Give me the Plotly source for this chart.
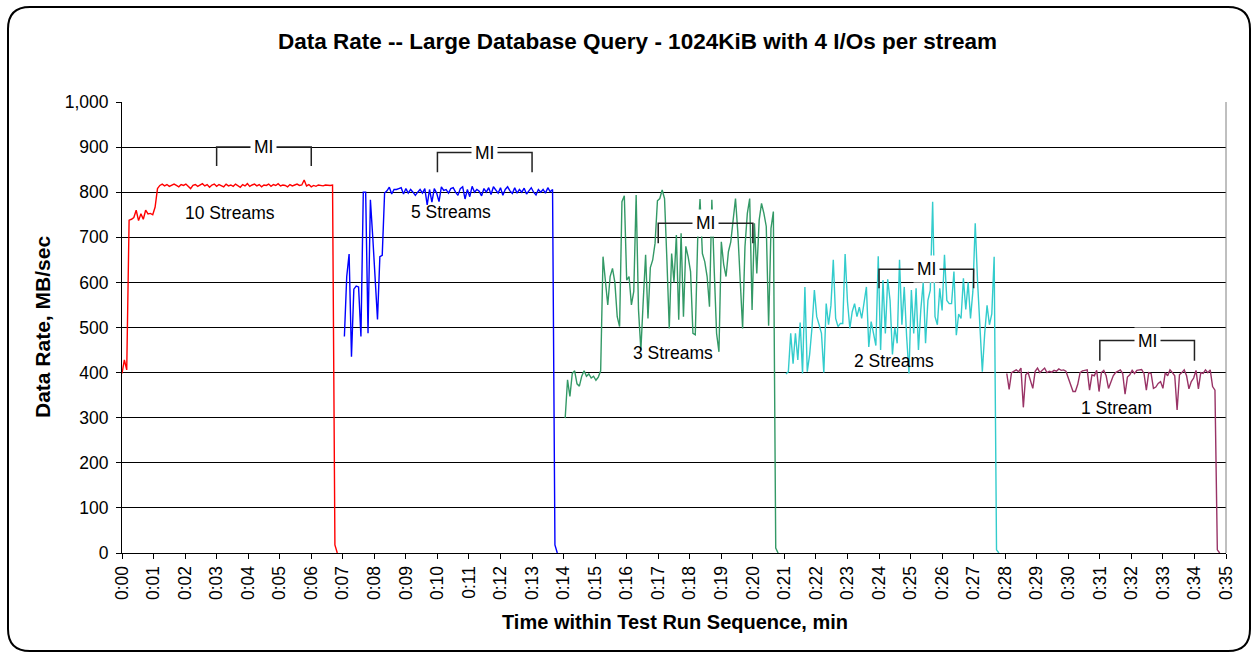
import plotly.graph_objects as go

# ---------------------------------------------------------------------------
# Measured data rate (MB/sec), one sample every 4.5 seconds
# ---------------------------------------------------------------------------
SAMPLE_SEC = 4.5

run_names = ["10 Streams", "5 Streams", "3 Streams", "2 Streams", "1 Stream"]
run_start_min = [0.0, 7.05, 14.05, 21.05, 28.05]
run_colors = ["#FF0000", "#0000FF", "#339966", "#33CCCC", "#993366"]

rate_10_streams = [
    398, 428, 406, 738, 740, 744, 760, 737, 752, 740, 760, 752, 753, 750, 767, 808,
    815, 818, 814, 817, 813, 816, 818, 815, 812, 817,
    815, 818, 814, 808, 815, 817, 813, 816, 819, 814,
    817, 811, 816, 818, 813, 817, 815, 812, 818, 814,
    816, 813, 818, 815, 811, 817, 814, 819, 813, 816,
    818, 814, 817, 812, 816, 815, 818, 813, 817, 815,
    819, 814, 816, 815, 812, 817, 814, 816, 818, 815,
    816, 827, 814, 817, 812, 815, 813, 816, 815, 814,
    816, 815, 815, 816,
    18, 0,
]

rate_5_streams = [
    480, 613, 663, 435, 585, 592, 590, 480, 800, 800, 487, 783, 700, 600, 518, 657, 660,
    798, 803, 811, 796, 806, 806, 808, 810, 796, 808,
    798, 806, 800, 793, 800, 806, 798, 808, 772, 806,
    778, 808, 798, 779, 812, 804, 806, 798, 808, 810,
    800, 793, 808, 812, 785, 806, 790, 813, 800, 806,
    802, 792, 808, 800, 810, 795, 812, 806, 798, 810,
    793, 806, 812, 803, 797, 810, 798, 806, 800, 809,
    796, 803, 810, 800, 794, 806, 800, 806, 798, 810,
    801, 806,
    18, 0,
]

rate_3_streams = [
    299, 384, 347, 398, 404, 375, 370, 392, 404, 392, 397, 388, 392, 383, 390, 404,
    657, 605, 550, 613, 631, 600, 524, 502, 779, 792,
    605, 613, 550, 580, 794, 539, 450, 560, 661, 520,
    633, 650, 687, 781, 786, 805, 786, 650, 498, 664,
    600, 705, 517, 709, 524, 680, 656, 624, 487, 484,
    694, 785, 664, 646, 613, 546, 783, 627, 487, 446,
    690, 640, 613, 668, 690, 738, 786, 709, 605, 498,
    679, 753, 786, 539, 731, 620, 738, 775, 753, 724,
    504, 720, 757, 11, 0,
]

rate_2_streams = [
    397, 402, 487, 420, 487, 428, 511, 398, 590, 402,
    440, 500, 583, 524, 506, 487, 400, 553, 506, 549,
    650, 520, 502, 509, 509, 663, 557, 498, 535, 553,
    524, 545, 520, 553, 590, 457, 513, 487, 460, 658,
    450, 605, 487, 607, 560, 440, 500,
    465, 650, 506, 590, 480, 398, 583, 487, 587, 450,
    540, 600, 465, 560, 583, 779, 524, 506, 587, 538,
    661, 560, 553, 553, 624, 483, 530, 520, 609, 540,
    600, 520, 580, 731, 600, 509, 402, 487, 549, 506,
    530, 657, 7, 0,
]

rate_1_stream = [
    398, 363, 400, 404, 406, 402, 410, 323, 395, 400,
    384, 365, 403, 410, 400, 405, 410, 400, 403, 401,
    405, 403, 408, 405, 406, 403, 387, 370, 358, 358,
    374, 400, 404, 405, 406, 361, 395, 393, 405, 358,
    400, 405, 393, 365, 380, 393, 400, 403, 406, 398,
    352, 390, 395, 405, 398, 405, 406, 407, 398, 361,
    400, 398, 365, 368, 376, 380, 365, 400, 393, 406,
    400, 393, 317, 395, 400, 406, 393, 364, 380, 388,
    405, 364, 400, 398, 406, 400, 406, 369, 361, 7,
    0,
]

run_rates = [rate_10_streams, rate_5_streams, rate_3_streams, rate_2_streams, rate_1_stream]

# label anchor for each run: (minute, MB/sec)
run_label_pos = [(3.42, 754), (10.43, 757), (17.46, 443), (24.46, 426), (31.52, 321)]

# measurement interval brackets: (start min, end min, bar level, leg bottom)
mi_brackets = [
    (3, 6, 900, 858),
    (10, 13, 888, 844),
    (17, 20, 731, 687),
    (24, 27, 629, 587),
    (31, 34, 471, 426),
]

x_tick_minutes = list(range(0, 36))
x_tick_text = ["0:%02d" % m for m in x_tick_minutes]
y_tick_values = list(range(0, 1001, 100))

TITLE = "Data Rate -- Large Database Query - 1024KiB with 4 I/Os per stream"
X_TITLE = "Time within Test Run Sequence, min"
Y_TITLE = "Data Rate, MB/sec"

# ---------------------------------------------------------------------------
# Page geometry (pixels)
# ---------------------------------------------------------------------------
W, H = 1257, 658
PL, PR, PT, PB = 122, 1226, 102, 553
FONT = "Liberation Sans, Arial, sans-serif"
LABEL_SIZE = 17.5


def px_x(px):
    return (px - PL) / (PR - PL)


def px_y(py):
    return (PB - py) / (PB - PT)


fig = go.Figure()

for name, t0, rates, color in zip(run_names, run_start_min, run_rates, run_colors):
    times = [t0 + i * SAMPLE_SEC / 60.0 for i in range(len(rates))]
    fig.add_trace(go.Scatter(
        x=times, y=rates, mode="lines", name=name,
        line=dict(color=color, width=1.4), showlegend=False,
        hoverinfo="skip",
    ))

annotations = []
shapes = []

for name, (lx, ly) in zip(run_names, run_label_pos):
    annotations.append(dict(
        x=lx, y=ly, xref="x", yref="y", text=name, showarrow=False,
        font=dict(family=FONT, size=LABEL_SIZE, color="#000000"),
        xanchor="center", yanchor="middle",
    ))

for x0, x1, top, leg in mi_brackets:
    shapes.append(dict(
        type="path", xref="x", yref="y",
        path="M %g,%g L %g,%g L %g,%g L %g,%g" % (x0, leg, x0, top, x1, top, x1, leg),
        line=dict(color="#222222", width=1.5),
    ))
    annotations.append(dict(
        x=(x0 + x1) / 2.0, y=top, xref="x", yref="y", text="MI", showarrow=False,
        font=dict(family=FONT, size=LABEL_SIZE, color="#000000"),
        bgcolor="#FFFFFF", borderpad=3, xanchor="center", yanchor="middle",
    ))

# plot-area right edge
shapes.append(dict(
    type="line", xref="paper", yref="paper", x0=1, x1=1, y0=0, y1=1,
    line=dict(color="#808080", width=1),
))

# rounded outer frame
bx0, by0, bx1, by1, r = 8, 7, 1250, 651, 22
frame = (
    "M {a},{b} L {c},{b} Q {d},{b} {d},{e} L {d},{f} Q {d},{g} {c},{g} "
    "L {a},{g} Q {h},{g} {h},{f} L {h},{e} Q {h},{b} {a},{b} Z"
).format(
    a=px_x(bx0 + r), b=px_y(by0), c=px_x(bx1 - r), d=px_x(bx1),
    e=px_y(by0 + r), f=px_y(by1 - r), g=px_y(by1), h=px_x(bx0),
)
shapes.append(dict(
    type="path", xref="paper", yref="paper", path=frame,
    line=dict(color="#000000", width=2), layer="below",
))

annotations.append(dict(
    x=px_x(637), y=px_y(42), xref="paper", yref="paper",
    text="<b>%s</b>" % TITLE, showarrow=False,
    font=dict(family=FONT, size=22.5, color="#000000"),
    xanchor="center", yanchor="middle",
))
annotations.append(dict(
    x=px_x(675), y=px_y(622), xref="paper", yref="paper",
    text="<b>%s</b>" % X_TITLE, showarrow=False,
    font=dict(family=FONT, size=20, color="#000000"),
    xanchor="center", yanchor="middle",
))
annotations.append(dict(
    x=px_x(42), y=px_y(327), xref="paper", yref="paper",
    text="<b>%s</b>" % Y_TITLE, showarrow=False, textangle=-90,
    font=dict(family=FONT, size=21, color="#000000"),
    xanchor="center", yanchor="middle",
))

fig.update_layout(
    width=W, height=H,
    margin=dict(l=PL, r=W - PR, t=PT, b=H - PB, pad=0),
    paper_bgcolor="#FFFFFF", plot_bgcolor="#FFFFFF",
    font=dict(family=FONT, color="#000000"),
    shapes=shapes, annotations=annotations,
    xaxis=dict(
        range=[0, 35], tickmode="array", tickvals=x_tick_minutes, ticktext=x_tick_text,
        tickangle=-90, ticks="outside", ticklen=5, tickcolor="#000000", tickwidth=1,
        showline=True, linecolor="#000000", linewidth=1, showgrid=False, zeroline=False,
        tickfont=dict(family=FONT, size=LABEL_SIZE, color="#000000"),
    ),
    yaxis=dict(
        range=[0, 1000], tickmode="array", tickvals=y_tick_values, tickformat=",d",
        ticks="outside", ticklen=5, tickcolor="#000000", tickwidth=1,
        showline=True, linecolor="#000000", linewidth=1, ticklabelstandoff=4,
        showgrid=True, gridcolor="#000000", gridwidth=1, zeroline=False,
        tickfont=dict(family=FONT, size=LABEL_SIZE, color="#000000"),
    ),
)

fig.write_html("out.html")
